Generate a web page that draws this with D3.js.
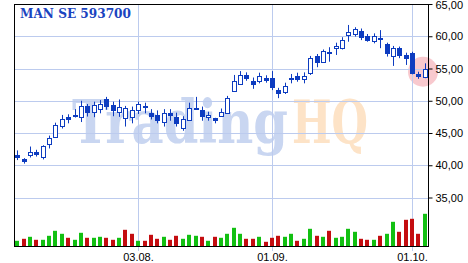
<!DOCTYPE html>
<html><head><meta charset="utf-8">
<script src="https://cdn.jsdelivr.net/npm/d3@7"></script>
<style>html,body{margin:0;padding:0;background:#fff;}svg{display:block;}</style>
</head><body>
<script>
const title = "MAN SE 593700";
const dates = ["2020-07-07","2020-07-08","2020-07-09","2020-07-10","2020-07-13","2020-07-14","2020-07-15","2020-07-16","2020-07-17","2020-07-20","2020-07-21","2020-07-22","2020-07-23","2020-07-24","2020-07-27","2020-07-28","2020-07-29","2020-07-30","2020-07-31",
"2020-08-03","2020-08-04","2020-08-05","2020-08-06","2020-08-07","2020-08-10","2020-08-11","2020-08-12","2020-08-13","2020-08-14","2020-08-17","2020-08-18","2020-08-19","2020-08-20","2020-08-21","2020-08-24","2020-08-25","2020-08-26","2020-08-27","2020-08-28","2020-08-31",
"2020-09-01","2020-09-02","2020-09-03","2020-09-04","2020-09-07","2020-09-08","2020-09-09","2020-09-10","2020-09-11","2020-09-14","2020-09-15","2020-09-16","2020-09-17","2020-09-18","2020-09-21","2020-09-22","2020-09-23","2020-09-24","2020-09-25","2020-09-28","2020-09-29","2020-09-30",
"2020-10-01","2020-10-02","2020-10-05"];
const open  = [41.6,40.9,41.55,42.05,41.25,43.4,44.45,46.0,47.5,47.85,47.45,49.2,48.2,48.7,50.2,49.35,48.15,47.3,47.4,48.55,49.2,48.15,47.8,46.75,48.15,47.45,45.75,47.0,48.95,48.55,47.45,47.3,47.65,48.15,51.5,52.55,54.05,53.1,53.1,53.6,53.5,51.65,51.4,53.3,53.9,53.35,54.25,56.95,56.05,57.55,58.15,58.15,60.2,60.35,60.85,60.05,59.25,59.7,58.8,56.85,58.15,57.1,57.35,54.1,53.7];
const high  = [42.3,41.1,42.9,42.4,43.1,44.6,46.6,47.8,47.9,48.7,50.0,49.5,49.85,50.1,50.6,49.85,50.2,49.2,49.1,49.85,49.7,48.7,48.5,48.7,48.7,48.15,47.6,49.7,50.6,49.1,48.3,47.35,48.8,50.75,54.0,54.6,54.4,53.6,54.35,53.95,54.6,52.0,52.8,54.15,54.35,54.4,56.95,57.25,57.95,58.3,59.0,59.85,61.75,61.4,61.2,60.35,60.45,60.95,59.0,58.5,58.4,57.45,57.6,54.5,55.8];
const low   = [40.8,40.25,41.2,41.35,40.9,42.6,44.3,45.7,46.5,47.4,46.7,47.55,47.45,48.05,48.6,47.6,47.5,46.0,46.5,47.95,48.05,47.1,46.5,46.0,46.9,46.0,45.35,46.9,48.75,46.9,46.9,46.5,47.5,47.95,51.4,52.45,53.1,51.85,52.7,52.8,51.65,50.4,51.05,52.7,52.95,52.7,54.0,55.2,55.9,56.05,57.1,57.95,59.15,59.95,59.4,59.15,58.9,58.15,56.85,55.4,56.6,55.55,54.1,53.4,53.5];
const close = [41.2,40.45,42.05,41.55,43.0,44.3,46.25,47.1,47.05,47.55,49.2,48.1,49.35,49.5,49.0,48.4,49.0,48.8,48.55,49.5,49.0,47.5,46.9,48.15,47.65,46.4,47.1,48.8,48.9,47.45,47.8,46.85,48.2,50.4,53.0,53.95,53.4,52.5,53.85,53.2,51.9,51.0,52.35,53.45,53.35,53.85,56.6,55.9,57.75,57.3,58.5,59.4,60.6,61.2,59.7,59.3,60.05,59.55,57.25,58.15,56.95,56.45,54.1,53.6,54.9];
const volume = [57,77,97,67,67,107,157,127,87,67,137,87,87,97,87,67,87,167,127,57,57,117,77,97,67,107,77,117,107,97,57,97,87,127,187,127,77,77,97,47,87,107,97,127,57,77,177,107,97,157,87,97,177,147,77,67,67,107,127,247,147,267,277,127,327];
const volumeUp = [1,0,1,0,1,1,1,1,0,1,1,0,1,1,0,0,1,0,0,1,0,0,0,1,0,0,1,1,1,0,1,0,1,1,1,1,0,0,1,0,0,0,1,1,0,1,1,0,1,0,1,1,1,1,0,0,1,0,1,1,0,0,0,0,1];
const priceTicks = [35,40,45,50,55,60,65];
const priceTickLabels = ["35,00","40,00","45,00","50,00","55,00","60,00","65,00"];
const dateTicks = ["2020-08-03","2020-09-01","2020-10-01"];
const dateTickLabels = ["03.08.","01.09.","01.10."];

const W = 468, H = 263;
const L = 14, R = 428, T = 4, B = 246;
const blue = "#0d3cc0", grid = "#bccbee";

const svg = d3.select("body").append("svg").attr("width", W).attr("height", H);

const x = d3.scaleBand().domain(dates).range([L, R]).padding(0);
const y = d3.scaleLinear().domain([35, 65]).range([197.5, T]);
const v = d3.scaleLinear().domain([0, 1000]).range([0, 100]);
const cx = d => Math.round(x(d) + x.bandwidth() / 2);

// watermark
const wm = svg.append("text").attr("y", 143).attr("font-family", "DejaVu Serif").attr("font-weight", "bold").attr("font-size", 60);
wm.append("tspan").attr("x", 72).attr("fill", "#c9d6f1").attr("textLength", 216).attr("lengthAdjust", "spacingAndGlyphs").text("Trading");
wm.append("tspan").attr("x", 292).attr("fill", "#fde3c7").attr("textLength", 76).attr("lengthAdjust", "spacingAndGlyphs").text("HQ");

// highlight circle
const li = dates.length - 1;
svg.append("circle").attr("cx", cx(dates[li]) - 2).attr("cy", y((high[li] + low[li]) / 2) + 1).attr("r", 15)
  .attr("fill", "rgba(235,90,105,0.33)");

// gridlines
const g = svg.append("g");
priceTicks.filter(p => p < 65).forEach(p => {
  const yy = Math.round(y(p)) + 0.5;
  g.append("line").attr("x1", L).attr("x2", R).attr("y1", yy).attr("y2", yy).attr("stroke", grid);
});
dateTicks.forEach(dt => {
  const xx = cx(dt) + 0.5;
  g.append("line").attr("x1", xx).attr("x2", xx).attr("y1", T).attr("y2", B + 5).attr("stroke", grid);
});

// volume bars
svg.append("g").selectAll("rect").data(dates).join("rect")
  .attr("x", d => cx(d) - 2).attr("width", 4)
  .attr("y", (d, i) => B + 0.5 - v(volume[i])).attr("height", (d, i) => v(volume[i]))
  .attr("fill", (d, i) => volumeUp[i] ? "#12c012" : "#c40d10");

// candles
const c = svg.append("g");
dates.forEach((d, i) => {
  const xx = cx(d);
  c.append("line").attr("x1", xx + 0.5).attr("x2", xx + 0.5).attr("y1", y(high[i])).attr("y2", y(low[i])).attr("stroke", blue);
  const top = y(Math.max(open[i], close[i])), bot = y(Math.min(open[i], close[i]));
  if (close[i] >= open[i]) {
    c.append("rect").attr("x", xx - 1.5).attr("y", Math.round(top) + 0.5).attr("width", 4).attr("height", Math.max(1, Math.round(bot - top)))
      .attr("fill", "#fff").attr("stroke", blue);
  } else {
    c.append("rect").attr("x", xx - 2).attr("y", Math.round(top)).attr("width", 5).attr("height", Math.max(2, Math.round(bot - top)))
      .attr("fill", blue);
  }
});

// frame
const f = svg.append("g").attr("stroke", "#000");
f.append("line").attr("x1", L + 0.5).attr("x2", L + 0.5).attr("y1", T).attr("y2", B + 1);
f.append("line").attr("x1", L).attr("x2", R + 1).attr("y1", T + 0.5).attr("y2", T + 0.5);
f.append("line").attr("x1", L).attr("x2", R + 1).attr("y1", B + 0.5).attr("y2", B + 0.5);

// right axis
const ax = svg.append("g").attr("transform", `translate(${R + 0.5},0)`)
  .call(d3.axisRight(y).tickValues(priceTicks).tickSize(4).tickPadding(3).tickFormat((d, i) => priceTickLabels[i]));
ax.select(".domain").attr("d", `M0,${T}V${B + 1}`).attr("stroke", "#000");
ax.selectAll(".tick line").attr("stroke", "#000");
ax.selectAll("text").attr("font-family", "Liberation Sans, Arial, sans-serif").attr("font-size", 11).attr("fill", "#000");
ax.selectAll(".tick").filter(d => d === 65).select("text").attr("dy", "0.45em");

// bottom labels
const bx = svg.append("g");
dateTicks.forEach((dt, i) => {
  bx.append("text").attr("x", cx(dt) + 0.5).attr("y", 261).attr("text-anchor", "middle")
    .attr("font-family", "Liberation Sans, Arial, sans-serif").attr("font-size", 11).attr("fill", "#000").text(dateTickLabels[i]);
});

// title
svg.append("text").attr("x", 20).attr("y", 18).attr("font-family", "DejaVu Serif").attr("font-weight", "bold")
  .attr("font-size", 12).attr("fill", "#1a44c0").attr("textLength", 111).attr("lengthAdjust", "spacingAndGlyphs").text(title);
</script>
</body></html>
